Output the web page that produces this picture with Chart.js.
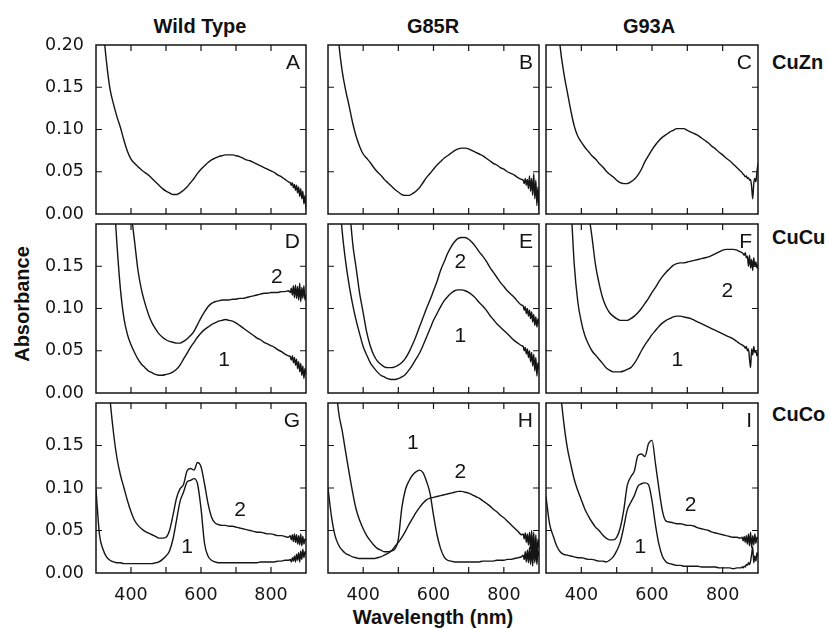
<!DOCTYPE html>
<html>
<head>
<meta charset="utf-8">
<script src="https://cdn.jsdelivr.net/npm/chart.js@4.4.1/dist/chart.umd.min.js"></script>
<style>
    html, body { margin: 0; padding: 0; background: #fff; }
    #fig { position: relative; width: 829px; height: 629px; overflow: hidden; color: #111;
           font-family: "Liberation Sans", Arial, sans-serif; }
    #fig canvas { position: absolute; left: 0; top: 0; }
    .lbl { position: absolute; font-weight: bold; white-space: nowrap; line-height: 1; }
    .c { transform: translate(-50%, -50%); }
    .r { transform: translate(0, -50%); }
</style>
</head>
<body>
<div id="fig">
    <div class="lbl c" style="left:200px; top:26px; font-size:20px;">Wild Type</div>
    <div class="lbl c" style="left:433px; top:26px; font-size:20px;">G85R</div>
    <div class="lbl c" style="left:649px; top:26px; font-size:20px;">G93A</div>
    <div class="lbl r" style="left:772px; top:62px; font-size:20px;">CuZn</div>
    <div class="lbl r" style="left:772px; top:237px; font-size:20px;">CuCu</div>
    <div class="lbl r" style="left:772px; top:414px; font-size:20px;">CuCo</div>
    <div class="lbl" style="left:22px; top:304px; font-size:20px; transform: translate(-50%, -50%) rotate(-90deg);">Absorbance</div>
    <div class="lbl c" style="left:433px; top:617px; font-size:20px;">Wavelength (nm)</div>
</div>
<script>
// wavelength grid (nm) shared by every spectrum, finer at the noisy red end
var wavelengths = [300, 310, 320, 330, 340, 350, 360, 370, 380, 390,
    400, 410, 420, 430, 440, 450, 460, 470, 480, 490,
    500, 510, 520, 530, 540, 550, 560, 570, 580, 590,
    600, 610, 620, 630, 640, 650, 660, 670, 680, 690,
    700, 710, 720, 730, 740, 750, 760, 770, 780, 790,
    800, 810, 820, 830, 840, 850,
    855, 858, 861, 864, 867, 870, 873, 876, 879, 882, 885, 888, 891, 894, 897, 900];

var xTickLabels = [400, 600, 800];

// CuZn row
var wtCuZn = [0.40, 0.30, 0.225, 0.18, 0.148, 0.13, 0.115, 0.102, 0.087, 0.074,
    0.065, 0.060, 0.056, 0.052, 0.049, 0.046, 0.042, 0.038, 0.034, 0.030,
    0.027, 0.025, 0.023, 0.023, 0.025, 0.028, 0.032, 0.037, 0.042, 0.048,
    0.053, 0.057, 0.061, 0.064, 0.066, 0.068, 0.069, 0.070, 0.070, 0.070,
    0.069, 0.068, 0.066, 0.064, 0.063, 0.061, 0.059, 0.057, 0.055, 0.053,
    0.051, 0.049, 0.046, 0.044, 0.041, 0.038,
    0.037, 0.034, 0.037, 0.031, 0.035, 0.028, 0.034, 0.025, 0.032, 0.021, 0.030, 0.018, 0.027, 0.012, 0.022, 0.006];
var g85rCuZn = [0.40, 0.32, 0.26, 0.205, 0.17, 0.147, 0.128, 0.108, 0.092, 0.080,
    0.071, 0.066, 0.061, 0.055, 0.050, 0.046, 0.041, 0.037, 0.033, 0.029,
    0.026, 0.023, 0.022, 0.022, 0.024, 0.027, 0.031, 0.037, 0.043, 0.048,
    0.053, 0.058, 0.062, 0.066, 0.069, 0.072, 0.075, 0.077, 0.078, 0.078,
    0.077, 0.075, 0.073, 0.071, 0.069, 0.066, 0.063, 0.060, 0.058, 0.055,
    0.053, 0.050, 0.048, 0.046, 0.043, 0.041,
    0.040, 0.036, 0.042, 0.034, 0.041, 0.030, 0.045, 0.027, 0.042, 0.022, 0.048, 0.018, 0.040, 0.010, 0.032, 0.004];
var g93aCuZn = [0.50, 0.40, 0.32, 0.25, 0.198, 0.168, 0.145, 0.123, 0.104, 0.092,
    0.085, 0.079, 0.074, 0.069, 0.065, 0.060, 0.056, 0.051, 0.047, 0.044,
    0.040, 0.037, 0.036, 0.036, 0.038, 0.041, 0.046, 0.053, 0.062, 0.069,
    0.076, 0.082, 0.087, 0.091, 0.094, 0.097, 0.099, 0.101, 0.101, 0.101,
    0.099, 0.097, 0.095, 0.093, 0.090, 0.087, 0.084, 0.080, 0.077, 0.073,
    0.070, 0.066, 0.063, 0.059, 0.055, 0.051,
    0.049, 0.047, 0.046, 0.044, 0.045, 0.042, 0.043, 0.040, 0.041, 0.032, 0.018, 0.036, 0.042, 0.038, 0.050, 0.060];

// CuCu row (1 and 2 are the two traces in each panel)
var wtCuCu1 = [0.90, 0.70, 0.55, 0.42, 0.32, 0.24, 0.175, 0.122, 0.088, 0.069,
    0.057, 0.048, 0.040, 0.034, 0.030, 0.026, 0.024, 0.022, 0.021, 0.021,
    0.022, 0.023, 0.025, 0.028, 0.033, 0.040, 0.047, 0.054, 0.060, 0.066,
    0.071, 0.075, 0.078, 0.081, 0.083, 0.085, 0.086, 0.087, 0.086, 0.085,
    0.083, 0.080, 0.077, 0.074, 0.071, 0.068, 0.065, 0.063, 0.060, 0.058,
    0.056, 0.054, 0.051, 0.049, 0.046, 0.044,
    0.043, 0.039, 0.044, 0.036, 0.042, 0.033, 0.040, 0.029, 0.037, 0.025, 0.035, 0.021, 0.032, 0.017, 0.029, 0.022];
var wtCuCu2 = [1.5, 1.2, 1.0, 0.85, 0.70, 0.57, 0.46, 0.37, 0.30, 0.25,
    0.215, 0.18, 0.145, 0.122, 0.106, 0.093, 0.083, 0.076, 0.070, 0.066,
    0.063, 0.061, 0.060, 0.059, 0.059, 0.061, 0.064, 0.068, 0.073, 0.081,
    0.089, 0.096, 0.102, 0.106, 0.108, 0.109, 0.110, 0.110, 0.110, 0.111,
    0.111, 0.112, 0.112, 0.113, 0.114, 0.115, 0.116, 0.117, 0.118, 0.118,
    0.119, 0.119, 0.119, 0.120, 0.120, 0.121,
    0.119, 0.124, 0.116, 0.127, 0.113, 0.128, 0.112, 0.126, 0.110, 0.130, 0.108, 0.125, 0.112, 0.127, 0.110, 0.116];
var g85rCuCu1 = [0.70, 0.50, 0.36, 0.25, 0.193, 0.156, 0.128, 0.105, 0.086, 0.070,
    0.055, 0.045, 0.036, 0.030, 0.025, 0.021, 0.019, 0.017, 0.016, 0.016,
    0.017, 0.019, 0.022, 0.027, 0.033, 0.040, 0.047, 0.056, 0.066, 0.076,
    0.086, 0.094, 0.102, 0.109, 0.114, 0.118, 0.121, 0.122, 0.122, 0.121,
    0.119, 0.116, 0.112, 0.107, 0.103, 0.098, 0.092, 0.087, 0.082, 0.078,
    0.074, 0.070, 0.066, 0.062, 0.059, 0.056,
    0.055, 0.050, 0.054, 0.046, 0.052, 0.042, 0.050, 0.037, 0.048, 0.032, 0.046, 0.026, 0.042, 0.020, 0.036, 0.028];
var g85rCuCu2 = [1.2, 0.95, 0.75, 0.57, 0.43, 0.32, 0.23, 0.178, 0.148, 0.118,
    0.095, 0.072, 0.056, 0.045, 0.038, 0.034, 0.031, 0.030, 0.030, 0.031,
    0.033, 0.036, 0.041, 0.048, 0.057, 0.067, 0.078, 0.089, 0.100, 0.110,
    0.121, 0.132, 0.145, 0.155, 0.165, 0.173, 0.179, 0.183, 0.184, 0.184,
    0.182, 0.178, 0.173, 0.167, 0.162, 0.156, 0.149, 0.143, 0.137, 0.131,
    0.126, 0.121, 0.117, 0.113, 0.108, 0.104,
    0.103, 0.098, 0.102, 0.094, 0.100, 0.091, 0.098, 0.088, 0.096, 0.084, 0.093, 0.080, 0.090, 0.078, 0.088, 0.082];
var g93aCuCu1 = [1.5, 1.2, 0.95, 0.75, 0.58, 0.44, 0.32, 0.23, 0.152, 0.108,
    0.084, 0.068, 0.058, 0.050, 0.045, 0.040, 0.035, 0.030, 0.027, 0.025,
    0.025, 0.025, 0.026, 0.028, 0.030, 0.035, 0.042, 0.050, 0.057, 0.063,
    0.069, 0.074, 0.079, 0.083, 0.086, 0.088, 0.090, 0.091, 0.091, 0.090,
    0.089, 0.088, 0.086, 0.084, 0.082, 0.080, 0.078, 0.076, 0.074, 0.072,
    0.070, 0.068, 0.066, 0.064, 0.061, 0.058,
    0.057, 0.056, 0.055, 0.053, 0.055, 0.050, 0.052, 0.040, 0.030, 0.052, 0.045, 0.055, 0.048, 0.050, 0.044, 0.048];
var g93aCuCu2 = [2.0, 1.7, 1.45, 1.2, 1.0, 0.85, 0.70, 0.57, 0.46, 0.37,
    0.30, 0.25, 0.215, 0.185, 0.152, 0.13, 0.113, 0.102, 0.095, 0.091,
    0.088, 0.086, 0.086, 0.086, 0.088, 0.091, 0.095, 0.100, 0.106, 0.112,
    0.119, 0.125, 0.132, 0.138, 0.143, 0.147, 0.151, 0.153, 0.154, 0.154,
    0.155, 0.156, 0.157, 0.158, 0.159, 0.160, 0.161, 0.163, 0.165, 0.167,
    0.169, 0.170, 0.170, 0.170, 0.169, 0.167,
    0.166, 0.165, 0.163, 0.166, 0.160, 0.162, 0.150, 0.163, 0.148, 0.158, 0.145, 0.160, 0.150, 0.155, 0.148, 0.152];

// CuCo row
var wtCuCo1 = [0.098, 0.045, 0.028, 0.019, 0.015, 0.013, 0.012, 0.012, 0.011, 0.011,
    0.011, 0.011, 0.011, 0.011, 0.011, 0.011, 0.011, 0.012, 0.013, 0.016,
    0.020, 0.026, 0.040, 0.062, 0.084, 0.095, 0.107, 0.109, 0.111, 0.105,
    0.076, 0.035, 0.020, 0.015, 0.013, 0.012, 0.012, 0.012, 0.012, 0.012,
    0.012, 0.012, 0.012, 0.012, 0.012, 0.012, 0.012, 0.013, 0.013, 0.013,
    0.013, 0.013, 0.014, 0.014, 0.015, 0.015,
    0.016, 0.013, 0.018, 0.014, 0.020, 0.013, 0.022, 0.015, 0.024, 0.013, 0.026, 0.016, 0.028, 0.018, 0.025, 0.022];
var wtCuCo2 = [0.60, 0.45, 0.34, 0.26, 0.205, 0.165, 0.135, 0.115, 0.100, 0.085,
    0.072, 0.062, 0.056, 0.052, 0.049, 0.047, 0.045, 0.043, 0.041, 0.041,
    0.042, 0.050, 0.068, 0.088, 0.099, 0.104, 0.120, 0.123, 0.121, 0.130,
    0.125, 0.105, 0.082, 0.066, 0.059, 0.057, 0.056, 0.056, 0.055, 0.055,
    0.054, 0.053, 0.052, 0.051, 0.050, 0.049, 0.048, 0.048, 0.047, 0.046,
    0.046, 0.045, 0.044, 0.044, 0.043, 0.042,
    0.044, 0.039, 0.045, 0.037, 0.046, 0.036, 0.045, 0.034, 0.044, 0.033, 0.046, 0.032, 0.043, 0.034, 0.040, 0.038];
var g85rCuCo1 = [0.40, 0.30, 0.235, 0.19, 0.168, 0.143, 0.118, 0.095, 0.075, 0.062,
    0.052, 0.044, 0.038, 0.033, 0.029, 0.027, 0.025, 0.025, 0.026, 0.028,
    0.040, 0.077, 0.098, 0.108, 0.115, 0.119, 0.121, 0.118, 0.108, 0.094,
    0.068, 0.045, 0.029, 0.019, 0.015, 0.014, 0.013, 0.013, 0.013, 0.013,
    0.013, 0.013, 0.013, 0.013, 0.014, 0.014, 0.014, 0.014, 0.015, 0.015,
    0.015, 0.016, 0.016, 0.017, 0.018, 0.019,
    0.021, 0.016, 0.025, 0.013, 0.027, 0.012, 0.030, 0.010, 0.032, 0.008, 0.034, 0.012, 0.030, 0.010, 0.026, 0.020];
var g85rCuCo2 = [0.100, 0.066, 0.044, 0.033, 0.027, 0.023, 0.021, 0.019, 0.018, 0.017,
    0.017, 0.017, 0.017, 0.017, 0.018, 0.019, 0.021, 0.023, 0.026, 0.031,
    0.036, 0.042, 0.049, 0.057, 0.064, 0.071, 0.077, 0.082, 0.086, 0.088,
    0.089, 0.090, 0.091, 0.092, 0.093, 0.094, 0.095, 0.096, 0.096, 0.095,
    0.094, 0.092, 0.090, 0.088, 0.085, 0.082, 0.079, 0.075, 0.072, 0.068,
    0.065, 0.061, 0.057, 0.053, 0.049, 0.045,
    0.046, 0.040, 0.047, 0.036, 0.046, 0.033, 0.048, 0.028, 0.050, 0.024, 0.048, 0.020, 0.045, 0.018, 0.040, 0.030];
var g93aCuCo1 = [0.090, 0.058, 0.044, 0.032, 0.025, 0.022, 0.021, 0.020, 0.019, 0.018,
    0.018, 0.017, 0.016, 0.016, 0.015, 0.014, 0.014, 0.013, 0.015, 0.019,
    0.026, 0.036, 0.054, 0.074, 0.083, 0.091, 0.102, 0.105, 0.106, 0.104,
    0.085, 0.056, 0.033, 0.019, 0.013, 0.011, 0.010, 0.009, 0.009, 0.008,
    0.008, 0.008, 0.008, 0.008, 0.007, 0.007, 0.007, 0.007, 0.007, 0.006,
    0.006, 0.006, 0.006, 0.005, 0.006, 0.006,
    0.007, 0.006, 0.008, 0.007, 0.010, 0.009, 0.012, 0.010, 0.014, 0.022, 0.031, 0.012, 0.020, 0.014, 0.024, 0.019];
var g93aCuCo2 = [0.55, 0.42, 0.33, 0.27, 0.218, 0.178, 0.148, 0.128, 0.110, 0.097,
    0.086, 0.075, 0.067, 0.060, 0.054, 0.050, 0.045, 0.041, 0.039, 0.039,
    0.042, 0.053, 0.074, 0.103, 0.113, 0.120, 0.138, 0.140, 0.137, 0.152,
    0.156, 0.128, 0.098, 0.072, 0.061, 0.060, 0.059, 0.058, 0.058, 0.057,
    0.056, 0.056, 0.055, 0.053, 0.052, 0.051, 0.050, 0.048, 0.047, 0.046,
    0.045, 0.044, 0.043, 0.042, 0.042, 0.041,
    0.042, 0.038, 0.043, 0.036, 0.044, 0.034, 0.046, 0.032, 0.048, 0.030, 0.044, 0.033, 0.046, 0.035, 0.042, 0.040];

// page layout: plot-area edges of the 3 columns and 3 rows (px)
var cols = [[96, 306], [328, 539], [546, 758]];
var rows = [[45, 214], [224, 393], [403, 573]];
var yAxisW = 60;
var xAxisH = 40;

var panels = [
    { letter: 'A', col: 0, row: 0, series: [wtCuZn], tags: [] },
    { letter: 'B', col: 1, row: 0, series: [g85rCuZn], tags: [] },
    { letter: 'C', col: 2, row: 0, series: [g93aCuZn], tags: [] },
    { letter: 'D', col: 0, row: 1, series: [wtCuCu1, wtCuCu2],
      tags: [{ t: '1', x: 666, y: 0.039 }, { t: '2', x: 817, y: 0.1375 }] },
    { letter: 'E', col: 1, row: 1, series: [g85rCuCu1, g85rCuCu2],
      tags: [{ t: '1', x: 676, y: 0.067 }, { t: '2', x: 676, y: 0.155 }] },
    { letter: 'F', col: 2, row: 1, series: [g93aCuCu1, g93aCuCu2],
      tags: [{ t: '1', x: 672, y: 0.039 }, { t: '2', x: 813, y: 0.120 }] },
    { letter: 'G', col: 0, row: 2, series: [wtCuCo1, wtCuCo2],
      tags: [{ t: '1', x: 560, y: 0.030 }, { t: '2', x: 712, y: 0.074 }] },
    { letter: 'H', col: 1, row: 2, series: [g85rCuCo1, g85rCuCo2],
      tags: [{ t: '1', x: 541, y: 0.153 }, { t: '2', x: 676, y: 0.119 }] },
    { letter: 'I', col: 2, row: 2, series: [g93aCuCo1, g93aCuCo2],
      tags: [{ t: '1', x: 567, y: 0.030 }, { t: '2', x: 709, y: 0.080 }] }
];

var tickFont = { family: '"DejaVu Sans", sans-serif', size: 17.5 };
var ink = '#151515';

// frame, inward ticks on all four sides, panel letter and trace numbers
var panelDecor = {
    id: 'panelDecor',
    afterDraw: function (chart, args, o) {
        var ctx = chart.ctx;
        var a = chart.chartArea;
        var xs = chart.scales.x;
        var ys = chart.scales.y;
        ctx.save();
        ctx.strokeStyle = ink;
        ctx.lineWidth = 1.5;
        ctx.strokeRect(a.left, a.top, a.right - a.left, a.bottom - a.top);

        ctx.lineWidth = 1.2;
        ctx.beginPath();
        xs.ticks.forEach(function (t) {
            if (t.value <= xs.min || t.value >= xs.max) return;
            var px = xs.getPixelForValue(t.value);
            ctx.moveTo(px, a.bottom); ctx.lineTo(px, a.bottom - 6);
            ctx.moveTo(px, a.top); ctx.lineTo(px, a.top + 6);
        });
        ys.ticks.forEach(function (t) {
            if (t.value <= ys.min + 1e-9 || t.value >= ys.max - 1e-9) return;
            var py = ys.getPixelForValue(t.value);
            ctx.moveTo(a.left, py); ctx.lineTo(a.left + 6, py);
            ctx.moveTo(a.right, py); ctx.lineTo(a.right - 6, py);
        });
        ctx.stroke();

        ctx.fillStyle = ink;
        ctx.font = '21px "Liberation Sans", Arial, sans-serif';
        ctx.textAlign = 'right';
        ctx.textBaseline = 'alphabetic';
        ctx.fillText(o.letter, a.right - 6, a.top + 24);

        ctx.textAlign = 'center';
        ctx.textBaseline = 'middle';
        (o.tags || []).forEach(function (tag) {
            ctx.fillText(tag.t, xs.getPixelForValue(tag.x), ys.getPixelForValue(tag.y));
        });
        ctx.restore();
    }
};

function buildPanel(p) {
    var fig = document.getElementById('fig');
    var canvas = document.createElement('canvas');
    canvas.width = 829;
    canvas.height = 629;
    fig.appendChild(canvas);

    var c = cols[p.col];
    var r = rows[p.row];
    var showY = p.col === 0;
    var showX = p.row === 2;
    var topRow = p.row === 0;

    var datasets = p.series.map(function (vals) {
        return {
            data: wavelengths.map(function (w, i) { return { x: w, y: vals[i] }; }),
            borderColor: ink,
            borderWidth: 1.4,
            pointRadius: 0,
            cubicInterpolationMode: 'monotone',
            fill: false
        };
    });

    // axis boxes get a fixed size so the plot area lands exactly on the panel rect
    return new Chart(canvas, {
        type: 'line',
        data: { datasets: datasets },
        plugins: [panelDecor],
        options: {
            responsive: false,
            animation: false,
            events: [],
            layout: {
                padding: {
                    left: c[0] - yAxisW,
                    right: 829 - c[1],
                    top: r[0],
                    bottom: 629 - r[1] - xAxisH
                }
            },
            plugins: {
                legend: { display: false },
                tooltip: { enabled: false },
                panelDecor: { letter: p.letter, tags: p.tags }
            },
            scales: {
                x: {
                    type: 'linear',
                    min: 300,
                    max: 900,
                    grid: { display: false, drawTicks: false },
                    border: { display: false },
                    ticks: {
                        display: showX,
                        stepSize: 100,
                        autoSkip: false,
                        maxRotation: 0,
                        padding: 12,
                        color: ink,
                        font: tickFont,
                        callback: function (v) {
                            return xTickLabels.indexOf(v) >= 0 ? String(v) : '';
                        }
                    },
                    afterFit: function (scale) { scale.height = xAxisH; }
                },
                y: {
                    min: 0,
                    max: 0.2,
                    grid: { display: false, drawTicks: false },
                    border: { display: false },
                    ticks: {
                        display: showY,
                        stepSize: 0.05,
                        autoSkip: false,
                        padding: 12,
                        color: ink,
                        font: tickFont,
                        callback: function (v) {
                            if (!topRow && v > 0.19) return '';
                            return v.toFixed(2);
                        }
                    },
                    afterFit: function (scale) { scale.width = yAxisW; }
                }
            }
        }
    });
}

panels.forEach(buildPanel);
</script>
</body>
</html>
